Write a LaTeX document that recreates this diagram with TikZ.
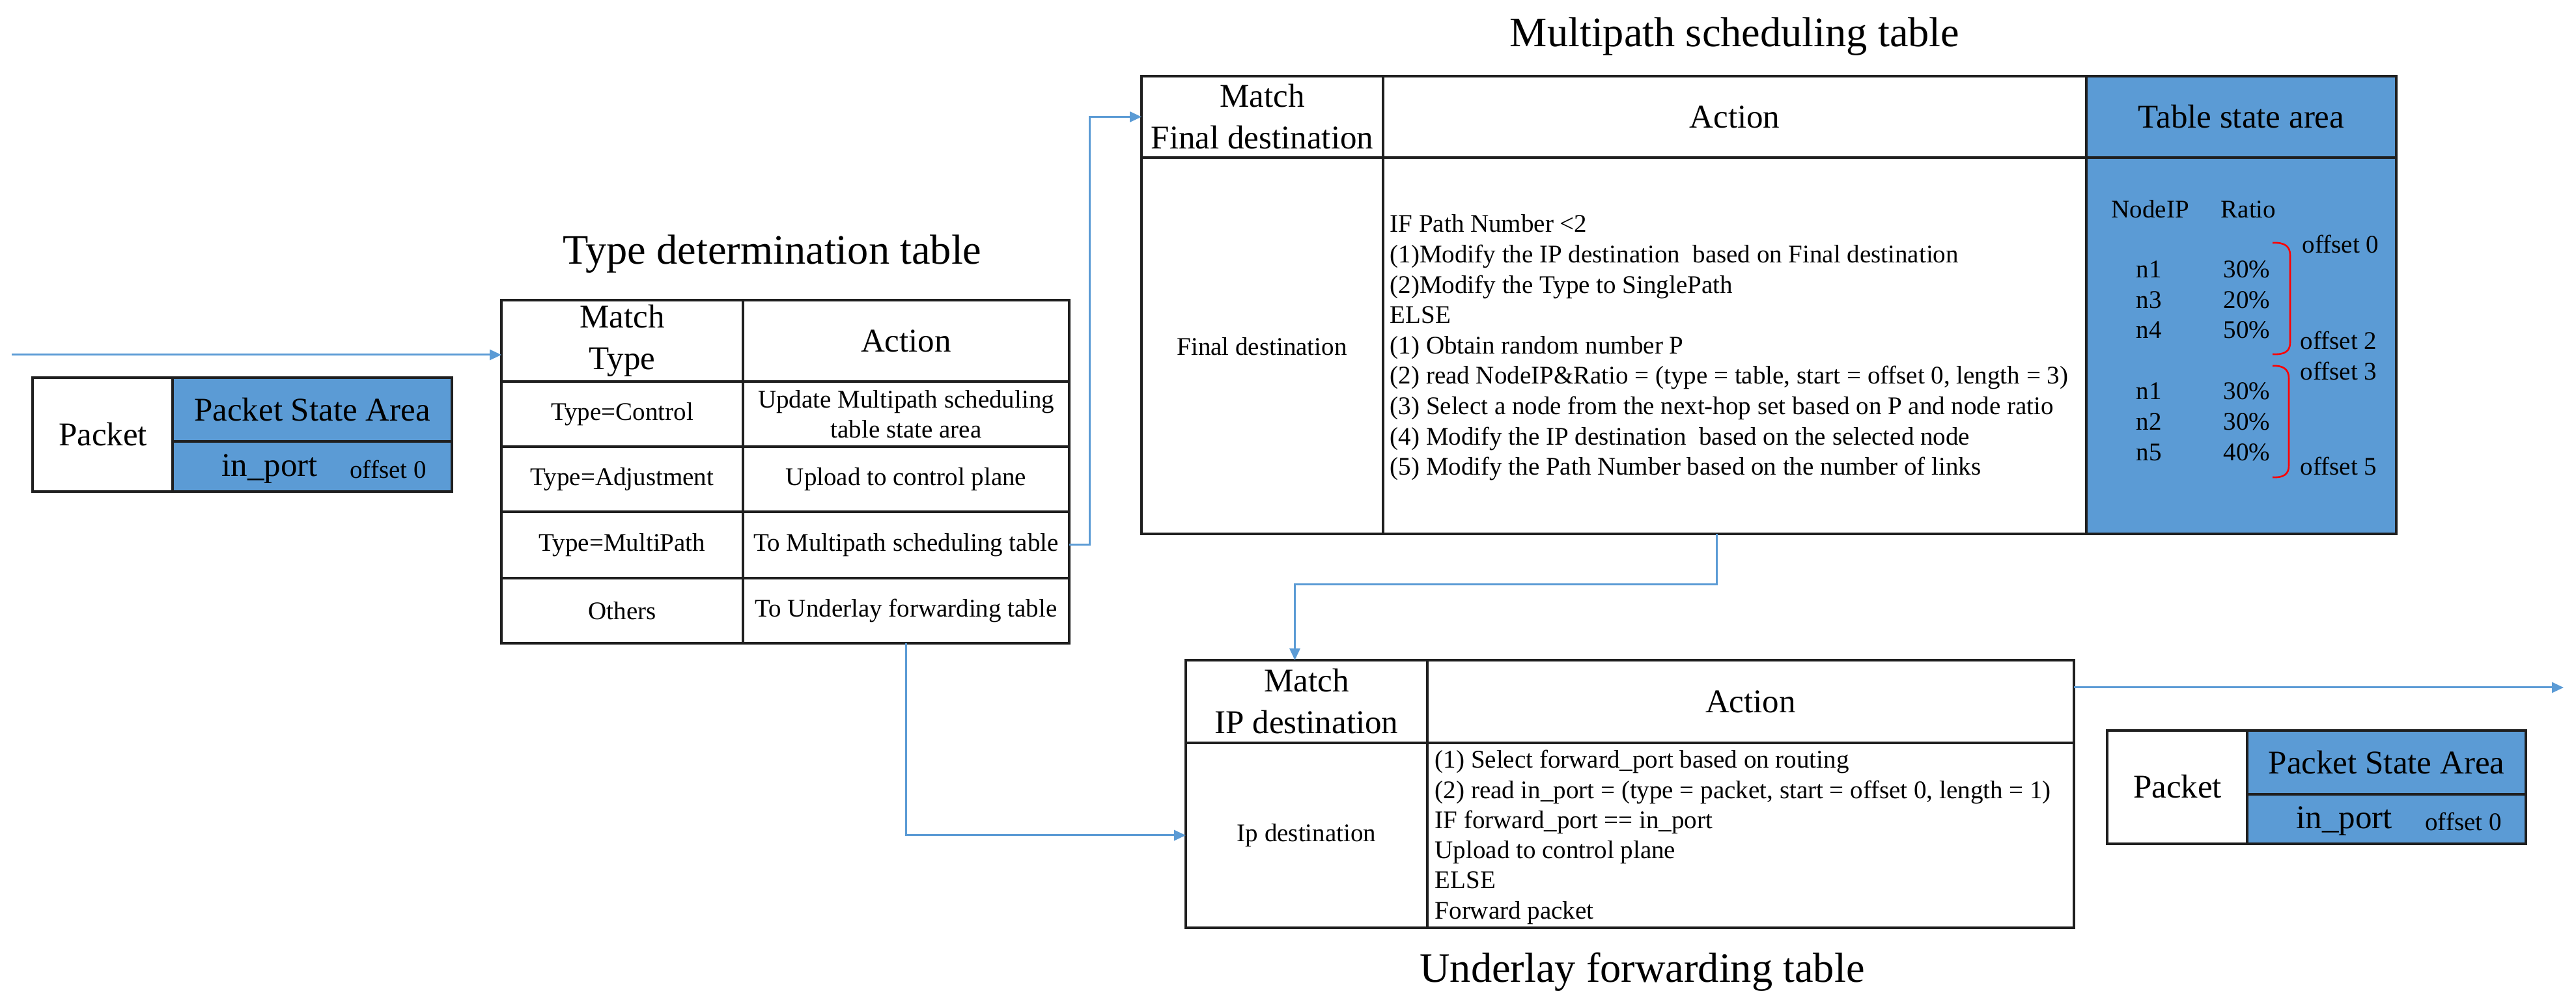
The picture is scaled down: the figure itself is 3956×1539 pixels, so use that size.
\documentclass[tikz,border=0pt]{standalone}
\usepackage{fontspec}
\setmainfont{Liberation Serif}
\usetikzlibrary{arrows.meta,calc}
\definecolor{officeblue}{HTML}{5B9BD5}
\definecolor{edgegray}{HTML}{1F1F1F}
\newcommand\fsz[2]{\fontsize{#1}{#2}\selectfont}
\newcommand\mkcell[6]{\node[cellbox,#6,minimum width={(#4-#2)*0.25pt},minimum height={(#5-#3)*0.25pt},anchor=north west] (#1) at (#2,#3) {};}
\tikzset{
  cellbox/.style={draw=edgegray, line width=0.9pt, inner sep=0pt, outer sep=0pt},
  statefill/.style={fill=officeblue},
  arr/.style={draw=officeblue, line width=0.75pt, -{Triangle[length=4.5pt,width=4pt]}},
  hdr/.style={font=\fsz{12.75}{16}, align=center, inner sep=0pt},
  celltxt/.style={font=\fsz{9.75}{11.5}, align=center, inner sep=0pt},
  linetxt/.style={font=\fsz{9.75}{11.5}, inner sep=0pt},
  ttl/.style={font=\fsz{16.1}{19}, inner sep=0pt},
  brace/.style={draw=red, line width=0.65pt},
}
\begin{document}
\begin{tikzpicture}[x=0.25pt,y=-0.25pt]
\useasboundingbox (0,0) rectangle (3956,1539);

% ---------- left packet ----------
\mkcell{pkl}{50}{580}{265}{755}{fill=white}
\mkcell{psl}{265}{580}{694}{678}{statefill}
\mkcell{ipl}{265}{678}{694}{755}{statefill}
\node[hdr] (t-pkl) at (158,667) {Packet};
\node[hdr] (t-psl) at (psl) {Packet State Area};
\node[hdr, anchor=base] (t-ipl) at (414,732) {in\_port};
\node[linetxt, anchor=base] (t-ofl) at (596,735) {offset 0};

% ---------- type determination table ----------
\node[ttl, anchor=base] (ttitle) at (1186,406) {Type determination table};
\mkcell{tthm}{770}{461}{1141}{586}{}
\mkcell{ttha}{1141}{461}{1642}{586}{}
\mkcell{tt1m}{770}{586}{1141}{686}{}
\mkcell{tt1a}{1141}{586}{1642}{686}{}
\mkcell{tt2m}{770}{686}{1141}{786}{}
\mkcell{tt2a}{1141}{686}{1642}{786}{}
\mkcell{tt3m}{770}{786}{1141}{888}{}
\mkcell{tt3a}{1141}{786}{1642}{888}{}
\mkcell{tt4m}{770}{888}{1141}{988}{}
\mkcell{tt4a}{1141}{888}{1642}{988}{}
\node[hdr] (t-tthm) at (tthm) {Match\\Type};
\node[hdr] (t-ttha) at (ttha) {Action};
\node[celltxt] (t-tt1m) at (tt1m) {Type=Control};
\node[celltxt] (t-tt1a) at (tt1a) {Update Multipath scheduling\\table state area};
\node[celltxt] (t-tt2m) at (tt2m) {Type=Adjustment};
\node[celltxt] (t-tt2a) at (tt2a) {Upload to control plane};
\node[celltxt] (t-tt3m) at (tt3m) {Type=MultiPath};
\node[celltxt] (t-tt3a) at (tt3a) {To Multipath scheduling table};
\node[celltxt] (t-tt4m) at (tt4m) {Others};
\node[celltxt] (t-tt4a) at (tt4a) {To Underlay forwarding table};

% ---------- multipath scheduling table ----------
\node[ttl, anchor=base] (mtitle) at (2664,72) {Multipath scheduling table};
\mkcell{mphm}{1753}{117}{2124}{242}{}
\mkcell{mpha}{2124}{117}{3204}{242}{}
\mkcell{mphs}{3204}{117}{3680}{242}{statefill}
\mkcell{mpbm}{1753}{242}{2124}{820}{}
\mkcell{mpba}{2124}{242}{3204}{820}{}
\mkcell{mpbs}{3204}{242}{3680}{820}{statefill}
\node[hdr] (t-mphm) at (mphm) {Match\\Final destination};
\node[hdr] (t-mpha) at (mpha) {Action};
\node[hdr] (t-mphs) at (mphs) {Table state area};
\node[celltxt] (t-mpbm) at (1938,532) {Final destination};
\foreach \t [count=\i from 0] in {
  {IF Path Number <2},
  {(1)Modify the IP destination\ \ based on Final destination},
  {(2)Modify the Type to SinglePath},
  {ELSE},
  {(1) Obtain random number P},
  {(2) read NodeIP\&Ratio = (type = table, start = offset 0, length = 3)},
  {(3) Select a node from the next-hop set based on P and node ratio},
  {(4) Modify the IP destination\ \ based on the selected node},
  {(5) Modify the Path Number based on the number of links}}
  \node[linetxt, anchor=base west] (mpl\i) at (2134,{357+46.6*\i}) {\t};

% table state area content
\node[linetxt, anchor=base west] (sNode) at (3242,335) {NodeIP};
\node[linetxt, anchor=base west] (sRatio) at (3410,335) {Ratio};
\foreach \n/\r/\y [count=\i] in {n1/30/427, n3/20/474, n4/50/520, n1/30/614, n2/30/661, n5/40/708}{
  \node[linetxt, anchor=base west] (sn\i) at (3280,\y) {\n};
  \node[linetxt, anchor=base east] (sr\i) at (3487,\y) {\r\%};
}
\draw[brace] (3490,373) .. controls (3508,372) and (3517,378) .. (3517,392) -- (3517,526) .. controls (3517,540) and (3508,545) .. (3490,544);
\draw[brace] (3490,562) .. controls (3506,561) and (3515,567) .. (3515,581) -- (3515,715) .. controls (3515,729) and (3506,734) .. (3490,733);
\node[linetxt, anchor=base west] (so0) at (3535,389) {offset 0};
\node[linetxt, anchor=base west] (so2) at (3532,537) {offset 2};
\node[linetxt, anchor=base west] (so3) at (3532,584) {offset 3};
\node[linetxt, anchor=base west] (so5) at (3532,730) {offset 5};

% ---------- underlay forwarding table ----------
\mkcell{uhm}{1821}{1014}{2192}{1141}{}
\mkcell{uha}{2192}{1014}{3185}{1141}{}
\mkcell{ubm}{1821}{1141}{2192}{1425}{}
\mkcell{uba}{2192}{1141}{3185}{1425}{}
\node[hdr] (t-uhm) at (uhm) {Match\\IP destination};
\node[hdr] (t-uha) at (uha) {Action};
\node[celltxt] (t-ubm) at (ubm) {Ip destination};
\foreach \t [count=\i from 0] in {
  {(1) Select forward\_port based on routing},
  {(2) read in\_port = (type = packet, start = offset 0, length = 1)},
  {IF forward\_port == in\_port},
  {Upload to control plane},
  {ELSE},
  {Forward packet}}
  \node[linetxt, anchor=base west] (ul\i) at (2203,{1180+46.2*\i}) {\t};
\node[ttl, anchor=base] (utitle) at (2522,1509) {Underlay forwarding table};

% ---------- right packet ----------
\mkcell{pkr}{3236}{1122}{3451}{1296}{fill=white}
\mkcell{psr}{3451}{1122}{3879}{1220}{statefill}
\mkcell{ipr}{3451}{1220}{3879}{1296}{statefill}
\node[hdr] (t-pkr) at (3344,1208) {Packet};
\node[hdr] (t-psr) at (psr) {Packet State Area};
\node[hdr, anchor=base] (t-ipr) at (3600,1273) {in\_port};
\node[linetxt, anchor=base] (t-ofr) at (3783,1276) {offset 0};

% ---------- connectors ----------
\coordinate (inStart) at (18,545);
\draw[arr] (inStart) -- (inStart -| tthm.west);
\draw[arr] (tt3a.east) -- ++(31,0) |- (mphm.west);
\draw[arr] (tt4a.south) |- (ubm.west);
\coordinate (mpOut) at (2636,820);
\draw[arr] (mpOut) -- ++(0,78) -| ([xshift=-4.5pt]uhm.north);
\coordinate (outEnd) at (3937,1056);
\draw[arr] (uha.east |- outEnd) -- (outEnd);
\end{tikzpicture}
\end{document}
